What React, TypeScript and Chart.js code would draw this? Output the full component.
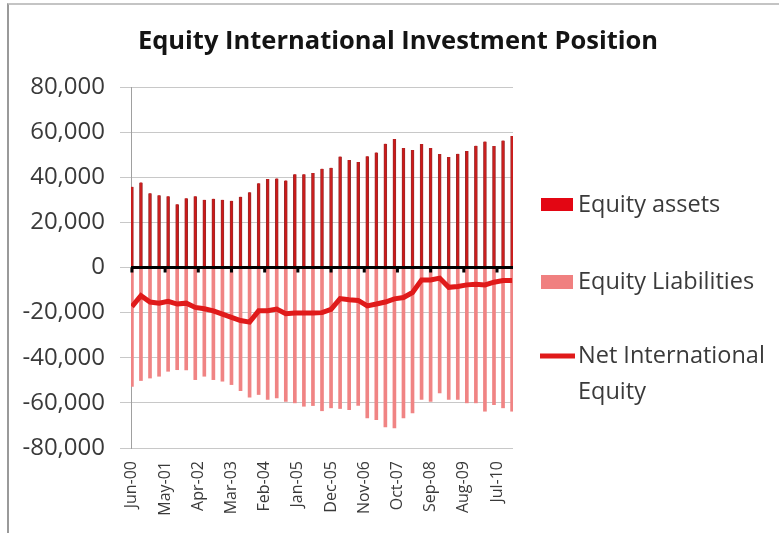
import { useEffect, useRef } from 'react';
import { Chart, registerables } from 'chart.js';
Chart.register(...registerables);

const quarters = [
  'Jun-00','Sep-00','Dec-00','Mar-01','Jun-01','Sep-01','Dec-01','Mar-02','Jun-02','Sep-02','Dec-02',
  'Mar-03','Jun-03','Sep-03','Dec-03','Mar-04','Jun-04','Sep-04','Dec-04','Mar-05','Jun-05','Sep-05',
  'Dec-05','Mar-06','Jun-06','Sep-06','Dec-06','Mar-07','Jun-07','Sep-07','Dec-07','Mar-08','Jun-08',
  'Sep-08','Dec-08','Mar-09','Jun-09','Sep-09','Dec-09','Mar-10','Jun-10','Sep-10','Dec-10'
];

const tickLabels = ['Jun-00','May-01','Apr-02','Mar-03','Feb-04','Jan-05','Dec-05','Nov-06','Oct-07','Sep-08','Aug-09','Jul-10'];

const equityAssets = [
  35800, 37700, 32900, 32000, 31600, 28000, 30700, 31600, 30000, 30500, 30000,
  29600, 31400, 33300, 37300, 39200, 39500, 38600, 41300, 41300, 41900, 43800,
  44200, 49200, 47600, 46800, 49300, 51000, 54900, 56900, 53000, 52100, 54700,
  53000, 50300, 49000, 50400, 51600, 54000, 55800, 53800, 56300, 58300
];

const equityLiabilities = [
  -52700, -50100, -49000, -48200, -46000, -45300, -45400, -49700, -48200, -49700, -50400,
  -51900, -54600, -57500, -56300, -58500, -57800, -59300, -60000, -61500, -61200, -63500,
  -62200, -62500, -63000, -61100, -66700, -67400, -70700, -71100, -66700, -64500, -58500,
  -59300, -55600, -58500, -58500, -60000, -60000, -63700, -60800, -62200, -63700
];

const netEquity = [
  -17300, -12500, -15300, -15800, -15000, -16200, -15800, -17700, -18300, -19200, -20700,
  -22100, -23500, -24200, -19200, -19200, -18400, -20500, -20200, -20200, -20200, -20000,
  -18600, -13800, -14300, -14600, -17000, -16200, -15300, -13900, -13300, -11100, -5500,
  -5500, -4700, -8800, -8400, -7700, -7400, -7700, -6500, -5800, -5800
];

const MONTHS_PER_QUARTER = 3;
const MONTHS_PER_TICK = 11;
const FONT = '"Open Sans", Lato, sans-serif';

const toPoints = (vals: number[]) => vals.map((v, i) => ({ x: i * MONTHS_PER_QUARTER, y: v }));

const decorPlugin = {
  id: 'decor',
  afterDatasetsDraw(chart: any) {
    const { ctx, chartArea, scales } = chart;
    const y0 = scales.y.getPixelForValue(0);
    ctx.save();
    ctx.strokeStyle = '#000';
    ctx.lineWidth = 3;
    ctx.beginPath();
    ctx.moveTo(chartArea.left, y0);
    ctx.lineTo(chartArea.right, y0);
    ctx.stroke();
    tickLabels.forEach((_, i) => {
      const x = scales.x.getPixelForValue(i * MONTHS_PER_TICK);
      ctx.beginPath();
      ctx.moveTo(x, y0);
      ctx.lineTo(x, y0 + 5);
      ctx.stroke();
    });
    ctx.restore();
  },
  afterDraw(chart: any) {
    const { ctx } = chart;
    ctx.save();
    // title
    ctx.fillStyle = '#141414';
    ctx.font = `bold 25.5px ${FONT}`;
    ctx.textAlign = 'center';
    ctx.textBaseline = 'alphabetic';
    ctx.fillText('Equity International Investment Position', 398, 49);
    // legend
    ctx.textAlign = 'left';
    ctx.textBaseline = 'middle';
    ctx.font = `23.5px ${FONT}`;
    ctx.fillStyle = '#e30613';
    ctx.fillRect(541, 198, 32, 13);
    ctx.fillStyle = '#f08080';
    ctx.fillRect(541, 275, 32, 14);
    ctx.strokeStyle = '#e01a1a';
    ctx.lineWidth = 5;
    ctx.beginPath();
    ctx.moveTo(540, 356);
    ctx.lineTo(575, 356);
    ctx.stroke();
    ctx.fillStyle = '#3a3a3a';
    ctx.fillText('Equity assets', 578, 205);
    ctx.fillText('Equity Liabilities', 578, 282);
    ctx.fillText('Net International', 578, 356);
    ctx.fillText('Equity', 578, 392);
    ctx.restore();
  }
};

export default function App() {
  const ref = useRef<HTMLCanvasElement>(null);
  useEffect(() => {
    if (!ref.current) return;
    const chart = new Chart(ref.current, {
      type: 'bar',
      data: {
        labels: quarters,
        datasets: [
          {
            type: 'line',
            label: 'Net International Equity',
            data: toPoints(netEquity),
            borderColor: '#e01a1a',
            borderWidth: 5,
            pointRadius: 0,
            tension: 0,
            order: 0,
          } as any,
          {
            label: 'Equity assets',
            data: toPoints(equityAssets),
            backgroundColor: '#d01818',
            borderColor: '#9a2a2a',
            borderWidth: { left: 1, right: 1, top: 0, bottom: 0 },
            barThickness: 3,
            grouped: false,
            order: 1,
          } as any,
          {
            label: 'Equity Liabilities',
            data: toPoints(equityLiabilities),
            backgroundColor: '#f08484',
            barThickness: 3,
            grouped: false,
            order: 2,
          } as any,
        ],
      },
      options: {
        animation: false,
        responsive: false,
        maintainAspectRatio: false,
        layout: { padding: { left: 0, top: 87, right: 266, bottom: 0 } },
        plugins: {
          legend: { display: false },
          title: { display: false },
          tooltip: { enabled: false },
        },
        scales: {
          x: {
            type: 'linear',
            offset: false,
            min: -0.3,
            max: 126.3,
            afterBuildTicks: (s: any) => {
              s.ticks = tickLabels.map((_, i) => ({ value: i * MONTHS_PER_TICK }));
            },
            afterFit: (s: any) => { s.height = 85; },
            ticks: {
              callback: (_v: any, i: number) => tickLabels[i],
              autoSkip: false,
              maxRotation: 90,
              minRotation: 90,
              padding: 13,
              color: '#3a3a3a',
              font: { family: FONT, size: 16 },
            },
            grid: { display: false, drawTicks: false },
            border: { display: false },
          },
          y: {
            min: -80000,
            max: 80000,
            afterFit: (s: any) => { s.width = 131; },
            ticks: {
              stepSize: 20000,
              callback: (v: any) => Number(v).toLocaleString('en-US'),
              padding: 15,
              color: '#3a3a3a',
              font: { family: FONT, size: 24 },
            },
            grid: { color: '#c8c8c8', tickLength: 11 },
            border: { color: '#a0a0a0' },
          },
        },
      } as any,
      plugins: [decorPlugin],
    });
    return () => chart.destroy();
  }, []);

  return (
    <div style={{ position: 'absolute', left: 0, top: 0, width: 779, height: 533, background: '#fff' }}>
      <div style={{ position: 'absolute', left: 7, top: 3, width: 772, height: 530, borderTop: '2px solid #c4c4c4', borderLeft: '2px solid #9a9a9a', boxSizing: 'border-box' }} />
      <canvas ref={ref} width={779} height={533} style={{ position: 'absolute', left: 0, top: 0, display: 'block' }} />
    </div>
  );
}
